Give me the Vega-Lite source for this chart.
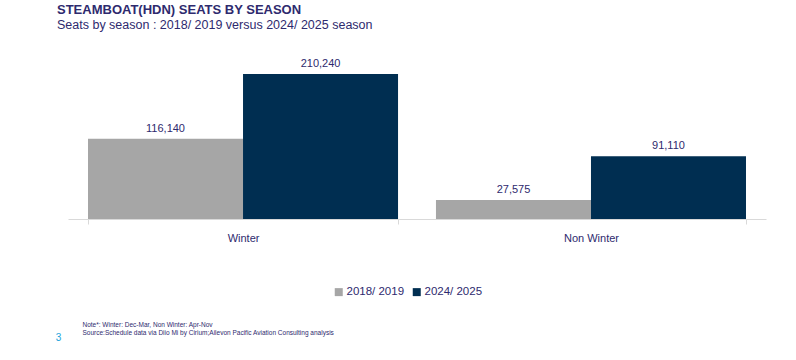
{
  "$schema": "https://vega.github.io/schema/vega-lite/v6.json",
  "width": 698,
  "height": 158,
  "autosize": {"type": "none"},
  "padding": {"left": 68, "top": 61, "right": 30, "bottom": 141},
  "background": "white",
  "config": {
    "font": "Liberation Sans",
    "view": {"stroke": null}
  },
  "title": {
    "text": "STEAMBOAT(HDN) SEATS BY SEASON",
    "subtitle": "Seats by season : 2018/ 2019 versus 2024/ 2025 season",
    "anchor": "start",
    "frame": "group",
    "dx": -11,
    "offset": 26,
    "font": "Liberation Sans",
    "fontSize": 13,
    "fontWeight": "bold",
    "color": "#2E2A6E",
    "subtitleFont": "Liberation Sans",
    "subtitleFontSize": 12.5,
    "subtitleColor": "#2E2A6E",
    "subtitlePadding": 2
  },
  "data": {
    "values": [
      {"season": "Winter", "period": "2018/ 2019", "seats": 116140},
      {"season": "Winter", "period": "2024/ 2025", "seats": 210240},
      {"season": "Non Winter", "period": "2018/ 2019", "seats": 27575},
      {"season": "Non Winter", "period": "2024/ 2025", "seats": 91110}
    ]
  },
  "encoding": {
    "x": {
      "field": "season",
      "type": "nominal",
      "sort": ["Winter", "Non Winter"],
      "scale": {"paddingInner": 0.109, "paddingOuter": 0.0575},
      "axis": {
        "labelAngle": 0,
        "labelFontSize": 11,
        "labelColor": "#2E2A6E",
        "labelPadding": 8,
        "domainColor": "#D9D9D9",
        "tickColor": "#D9D9D9",
        "tickSize": 5,
        "tickBand": "extent",
        "title": ["Note*: Winter: Dec-Mar, Non Winter: Apr-Nov", "Source:Schedule data via Diio Mi by Cirium;Ailevon Pacific Aviation Consulting analysis"],
        "titleX": 14,
        "titleY": 107,
        "titleAlign": "left",
        "titleAnchor": null,
        "titleBaseline": "alphabetic",
        "titleFontSize": 6.5,
        "titleFontWeight": "normal",
        "titleColor": "#2E2A6E",
        "titleLineHeight": 8
      }
    },
    "xOffset": {
      "field": "period",
      "type": "nominal",
      "sort": ["2018/ 2019", "2024/ 2025"],
      "scale": {"paddingInner": 0, "paddingOuter": 0}
    },
    "y": {
      "field": "seats",
      "type": "quantitative",
      "scale": {"domain": [0, 229000], "nice": false},
      "axis": {
        "domain": false,
        "ticks": false,
        "labels": false,
        "grid": false,
        "title": "3",
        "titleAngle": 0,
        "titleX": -10,
        "titleY": 279,
        "titleAlign": "center",
        "titleBaseline": "alphabetic",
        "titleColor": "#1BA3DB",
        "titleFontSize": 10,
        "titleFontWeight": "normal"
      }
    }
  },
  "layer": [
    {
      "mark": {"type": "bar"},
      "encoding": {
        "color": {
          "field": "period",
          "type": "nominal",
          "sort": ["2018/ 2019", "2024/ 2025"],
          "scale": {"range": ["#A6A6A6", "#002E51"]},
          "legend": {
            "title": null,
            "orient": "none",
            "legendX": 265,
            "legendY": 225,
            "direction": "horizontal",
            "symbolType": "square",
            "symbolSize": 64,
            "symbolStrokeWidth": 0,
            "labelFontSize": 11.5,
            "labelColor": "#2E2A6E",
            "labelOffset": 2,
            "columnPadding": 6
          }
        }
      }
    },
    {
      "mark": {"type": "text", "baseline": "bottom", "dy": -5, "fontSize": 11, "color": "#2E2A6E"},
      "encoding": {
        "text": {"field": "seats", "type": "quantitative", "format": ","}
      }
    }
  ]
}
